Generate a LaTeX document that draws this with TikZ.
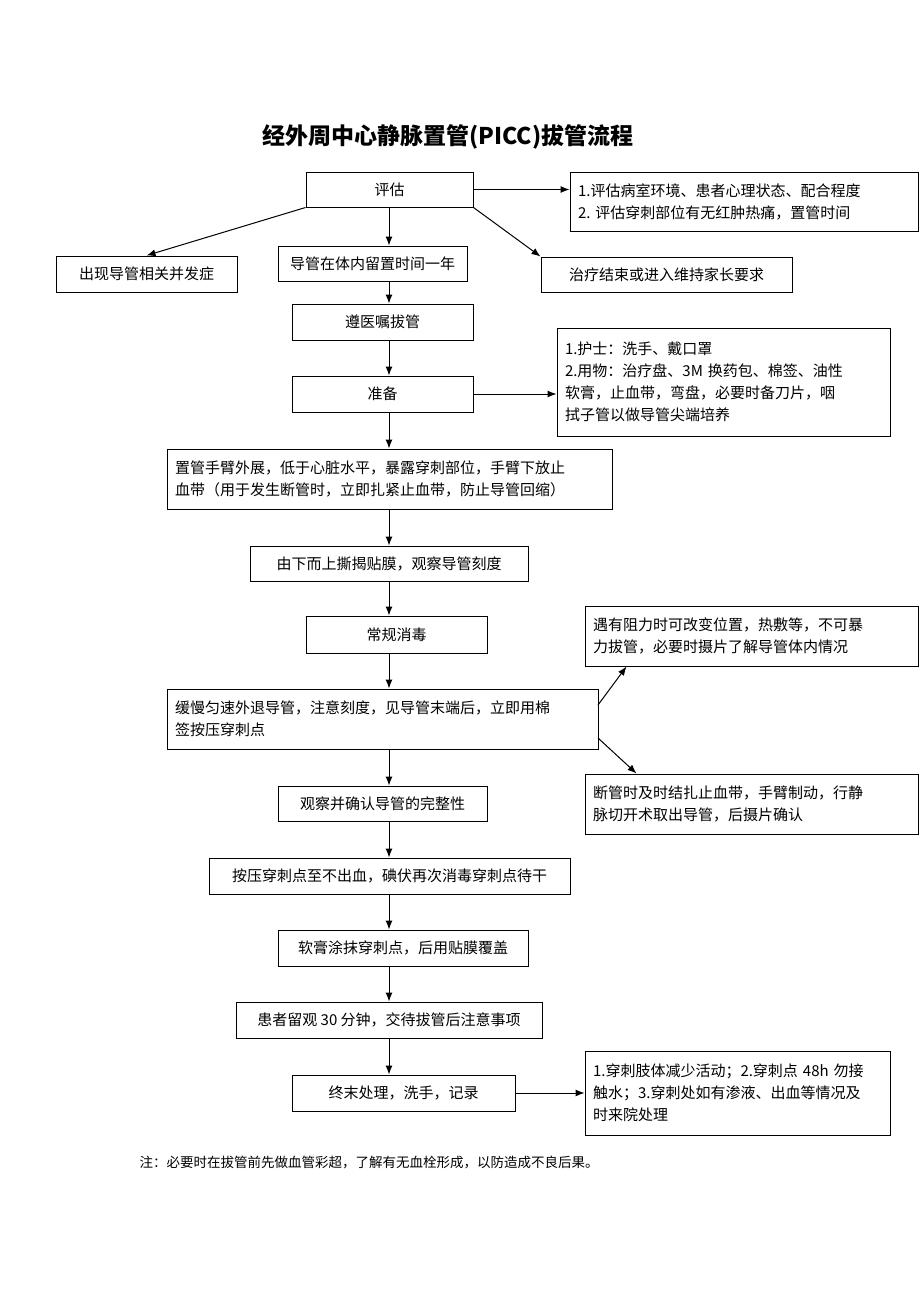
\documentclass[tikz,border=0pt]{standalone}
\usepackage{fontspec}
\setmainfont{Liberation Serif}
\newfontfamily\cjk{Noto Sans CJK SC}
\usetikzlibrary{arrows.meta}
\tikzset{
  box/.style={draw, line width=1pt, inner xsep=8pt, font=\cjk\fontsize{15}{22}\selectfont},
  flow/.style={-{Latex[length=9pt,width=7pt]}, line width=1pt}
}
\newcommand{\bx}[6]{% name, x1,y1,x2,y2, text
  \node[box, minimum width=#4-#2, minimum height=#5-#3] (#1) at ({(#2+#4)/2},{(#3+#5)/2}) {#6};}
\begin{document}
\begin{tikzpicture}[x=1pt,y=-1pt]
\useasboundingbox (0,0) rectangle (920,1302);
\node[font=\cjk\bfseries\fontsize{23}{27}\selectfont] (title) at (448,137) {经外周中心静脉置管(PICC)拔管流程};
% main column
\bx{eval}{306}{172}{473}{207}{评估}
\bx{compl}{56}{256}{237}{292}{出现导管相关并发症}
\bx{year}{278}{246}{467}{281}{导管在体内留置时间一年}
\bx{end}{541}{257}{792}{292}{治疗结束或进入维持家长要求}
\bx{order}{292}{304}{473}{340}{遵医嘱拔管}
\bx{prep}{292}{376}{473}{412}{准备}
\node[box, align=left, minimum width=445, minimum height=60, text width=429] (arm) at (389.5,479) {置管手臂外展，低于心脏水平，暴露穿刺部位，手臂下放止\\血带（用于发生断管时，立即扎紧止血带，防止导管回缩）};
\bx{film}{250}{546}{528}{581}{由下而上撕揭贴膜，观察导管刻度}
\bx{disinf}{306}{616}{487}{653}{常规消毒}
\node[box, align=left, minimum width=431, minimum height=60, text width=415] (pull) at (382.5,719) {缓慢匀速外退导管，注意刻度，见导管末端后，立即用棉\\签按压穿刺点};
\bx{check}{278}{786}{487}{821}{观察并确认导管的完整性}
\bx{press}{209}{858}{570}{894}{按压穿刺点至不出血，碘伏再次消毒穿刺点待干}
\bx{oint}{278}{930}{528}{966}{软膏涂抹穿刺点，后用贴膜覆盖}
\bx{stay}{236}{1002}{542}{1038}{患者留观 30 分钟，交待拔管后注意事项}
\bx{final}{292}{1075}{515}{1111}{终末处理，洗手，记录}
% side notes
\node[box, align=left, minimum width=348, minimum height=59, text width=332] (n1) at (744,201.5) {1.评估病室环境、患者心理状态、配合程度\\2.\ 评估穿刺部位有无红肿热痛，置管时间};
\node[box, align=left, minimum width=333, minimum height=108, text width=317] (n2) at (723.5,382) {1.护士：洗手、戴口罩\\2.用物：治疗盘、3M 换药包、棉签、油性\\软膏，止血带，弯盘，必要时备刀片，咽\\拭子管以做导管尖端培养};
\node[box, align=left, minimum width=333, minimum height=60, text width=317] (n3) at (751.5,636) {遇有阻力时可改变位置，热敷等，不可暴\\力拔管，必要时摄片了解导管体内情况};
\node[box, align=left, minimum width=333, minimum height=60, text width=317] (n4) at (751.5,804) {断管时及时结扎止血带，手臂制动，行静\\脉切开术取出导管，后摄片确认};
\node[box, align=left, minimum width=305, minimum height=84, text width=289] (n5) at (737.5,1093) {1.穿刺肢体减少活动；2.穿刺点 48h 勿接\\触水；3.穿刺处如有渗液、出血等情况及\\时来院处理};
\node[anchor=west, font=\cjk\fontsize{13.5}{16}\selectfont] (note) at (136,1162) {注：必要时在拔管前先做血管彩超，了解有无血栓形成，以防造成不良后果。};
% connectors
\coordinate (col) at (389,0);
\coordinate (up) at (598,705);
\coordinate (down) at (598,738);
\draw[flow] (eval.east) -- (n1.west |- eval.east);
\draw[flow] (eval.south west) -- (compl.north);
\draw[flow] (col |- eval.south) -- (col |- year.north);
\draw[flow] (eval.south east) -- (end.north west);
\draw[flow] (col |- year.south) -- (col |- order.north);
\draw[flow] (col |- order.south) -- (col |- prep.north);
\draw[flow] (prep.east) -- (n2.west |- prep.east);
\draw[flow] (col |- prep.south) -- (col |- arm.north);
\draw[flow] (col |- arm.south) -- (col |- film.north);
\draw[flow] (col |- film.south) -- (col |- disinf.north);
\draw[flow] (col |- disinf.south) -- (col |- pull.north);
\draw[flow] (up) -- ([xshift=42]n3.south west);
\draw[flow] (down) -- ([xshift=52]n4.north west);
\draw[flow] (col |- pull.south) -- (col |- check.north);
\draw[flow] (col |- check.south) -- (col |- press.north);
\draw[flow] (col |- press.south) -- (col |- oint.north);
\draw[flow] (col |- oint.south) -- (col |- stay.north);
\draw[flow] (col |- stay.south) -- (col |- final.north);
\draw[flow] (final.east) -- (n5.west |- final.east);
\end{tikzpicture}
\end{document}
